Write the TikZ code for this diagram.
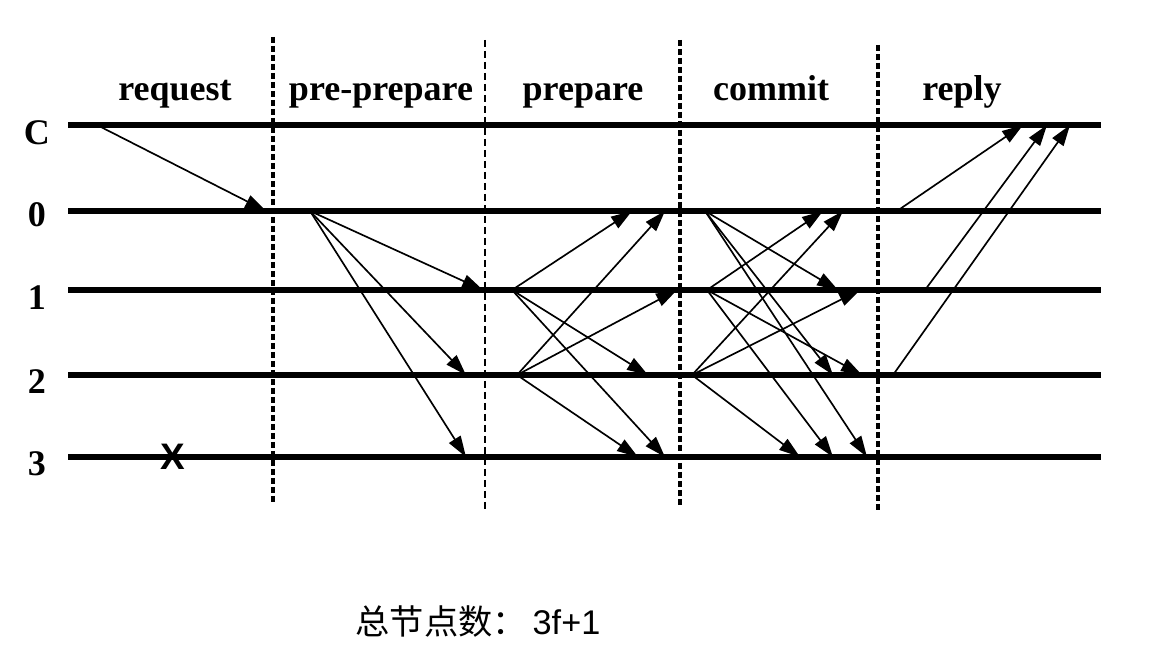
\documentclass[tikz,border=0pt]{standalone}
\usepackage{fontspec}
\setmainfont{Liberation Serif}
\newfontfamily\cjk{Noto Sans CJK SC}
\newfontfamily\arialfont{Liberation Sans}
\usetikzlibrary{arrows.meta}

\begin{document}
\begin{tikzpicture}[x=0.02cm,y=-0.02cm,
    replica/.style={line width=0.115cm},
    phase/.style={line width=0.07cm, dash pattern=on 0.12cm off 0.06cm},
    thinphase/.style={line width=0.025cm, dash pattern=on 0.14cm off 0.08cm},
    msg/.style={line width=0.95pt, -{Triangle[length=0.42cm,width=0.27cm]}},
    lbl/.style={font=\fontsize{20.5}{24}\selectfont\bfseries},
    hdr/.style={font=\fontsize{20.5}{24}\selectfont\bfseries, anchor=base}]

    \useasboundingbox (0,0) rectangle (1158,652);

    % Define the replica lines
    \coordinate (C-w) at (68,125);  \coordinate (C-e) at (1101,125);
    \coordinate (r0-w) at (68,211); \coordinate (r0-e) at (1101,211);
    \coordinate (r1-w) at (68,290); \coordinate (r1-e) at (1101,290);
    \coordinate (r2-w) at (68,375); \coordinate (r2-e) at (1101,375);
    \coordinate (r3-w) at (68,457); \coordinate (r3-e) at (1101,457);
    \draw[replica] (C-w) -- (C-e);
    \draw[replica] (r0-w) -- (r0-e);
    \draw[replica] (r1-w) -- (r1-e);
    \draw[replica] (r2-w) -- (r2-e);
    \draw[replica] (r3-w) -- (r3-e);

    % Add replica labels
    \node[lbl] (labC) at (37,133) {C};
    \node[lbl] (lab0) at (37,215) {0};
    \node[lbl] (lab1) at (37,298) {1};
    \node[lbl] (lab2) at (37,382) {2};
    \node[lbl] (lab3) at (37,464) {3};

    % Phase borders
    \coordinate (b1-t) at (273,37);  \coordinate (b1-b) at (273,502);
    \coordinate (b2-t) at (485,40);  \coordinate (b2-b) at (485,510);
    \coordinate (b3-t) at (680,40);  \coordinate (b3-b) at (680,507);
    \coordinate (b4-t) at (878,45);  \coordinate (b4-b) at (878,512);
    \draw[phase] (b1-t) -- (b1-b);
    \draw[thinphase] (b2-t) -- (b2-b);
    \draw[phase] (b3-t) -- (b3-b);
    \draw[phase] (b4-t) -- (b4-b);

    % Phase names
    \node[hdr] (hreq) at (175,100) {request};
    \node[hdr] (hpre) at (381,100) {pre-prepare};
    \node[hdr] (hprep) at (583,100) {prepare};
    \node[hdr] (hcom) at (771,100) {commit};
    \node[hdr] (hrep) at (962,100) {reply};

    % Faulty replica
    \node[font=\arialfont\fontsize{21}{24}\selectfont\bfseries] (fault) at (173,457) {X};

    % request
    \coordinate (rq-s) at (97,125);  \coordinate (rq-e) at (266,211);
    \draw[msg] (rq-s) -- (rq-e);

    % pre-prepare
    \coordinate (pp-s) at (310,211);
    \coordinate (pp-1) at (483,290);
    \coordinate (pp-2) at (466,375);
    \coordinate (pp-3) at (466,457);
    \draw[msg] (pp-s) -- (pp-1);
    \draw[msg] (pp-s) -- (pp-2);
    \draw[msg] (pp-s) -- (pp-3);

    % prepare
    \coordinate (pr1-s) at (512,290); \coordinate (pr2-s) at (517,375);
    \coordinate (pr1-0) at (632,211); \coordinate (pr1-2) at (648,375); \coordinate (pr1-3) at (665,457);
    \coordinate (pr2-0) at (665,211); \coordinate (pr2-1) at (677,290); \coordinate (pr2-3) at (638,457);
    \draw[msg] (pr1-s) -- (pr1-0);
    \draw[msg] (pr1-s) -- (pr1-2);
    \draw[msg] (pr1-s) -- (pr1-3);
    \draw[msg] (pr2-s) -- (pr2-0);
    \draw[msg] (pr2-s) -- (pr2-1);
    \draw[msg] (pr2-s) -- (pr2-3);

    % commit
    \coordinate (cm0-s) at (705,211); \coordinate (cm1-s) at (707,290); \coordinate (cm2-s) at (692,375);
    \coordinate (cm0-1) at (838,290); \coordinate (cm0-2) at (833,375); \coordinate (cm0-3) at (867,457);
    \coordinate (cm1-0) at (823,211); \coordinate (cm1-2) at (862,375); \coordinate (cm1-3) at (833,457);
    \coordinate (cm2-0) at (843,211); \coordinate (cm2-1) at (860,290); \coordinate (cm2-3) at (800,457);
    \draw[msg] (cm0-s) -- (cm0-1);
    \draw[msg] (cm0-s) -- (cm0-2);
    \draw[msg] (cm0-s) -- (cm0-3);
    \draw[msg] (cm1-s) -- (cm1-0);
    \draw[msg] (cm1-s) -- (cm1-2);
    \draw[msg] (cm1-s) -- (cm1-3);
    \draw[msg] (cm2-s) -- (cm2-0);
    \draw[msg] (cm2-s) -- (cm2-1);
    \draw[msg] (cm2-s) -- (cm2-3);

    % reply
    \coordinate (rp0-s) at (897,211); \coordinate (rp0-e) at (1023,125);
    \coordinate (rp1-s) at (925,290); \coordinate (rp1-e) at (1047,125);
    \coordinate (rp2-s) at (893,375); \coordinate (rp2-e) at (1070,125);
    \draw[msg] (rp0-s) -- (rp0-e);
    \draw[msg] (rp1-s) -- (rp1-e);
    \draw[msg] (rp2-s) -- (rp2-e);

    % Caption
    \node[font=\fontsize{19.5}{22}\selectfont] (total) at (478,622) {{\cjk 总节点数：}\,{\arialfont 3f+1}};
\end{tikzpicture}
\end{document}
